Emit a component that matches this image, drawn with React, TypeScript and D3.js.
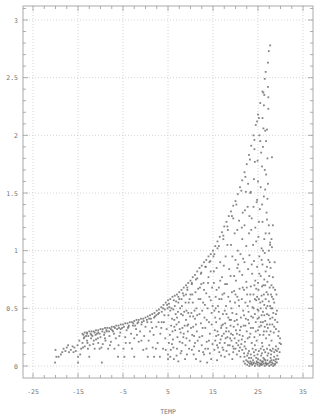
import React, { useEffect, useRef } from "react";
import * as d3 from "d3";

// tick values
const xMajor = [-25, -15, -5, 5, 15, 25, 35];
const yMajor = [0, 0.5, 1, 1.5, 2, 2.5, 3];
const yLabels = ["0", "0.5", "1", "1.5", "2", "2.5", "3"];

// upper edge of the cloud (dense row of points) [TEMP, value]
const edgePoints: [number, number][] = [
  [-14.0, 0.28], [-13.5, 0.29], [-13.0, 0.29], [-12.5, 0.30], [-12.0, 0.30], [-11.5, 0.30],
  [-11.0, 0.31], [-10.5, 0.31], [-10.0, 0.32], [-9.5, 0.32], [-9.0, 0.33], [-8.5, 0.33],
  [-8.0, 0.33], [-7.5, 0.34], [-7.0, 0.34], [-6.5, 0.35], [-6.0, 0.35], [-5.5, 0.36],
  [-5.0, 0.36], [-4.5, 0.37], [-4.0, 0.37], [-3.5, 0.38], [-3.0, 0.38], [-2.5, 0.39],
  [-2.0, 0.40], [-1.5, 0.40], [-1.0, 0.41], [-0.5, 0.41], [0.0, 0.42], [0.5, 0.43],
  [1.0, 0.44], [1.5, 0.45], [2.0, 0.46], [2.5, 0.48], [3.0, 0.49], [3.5, 0.51],
  [4.0, 0.53], [4.5, 0.55], [5.0, 0.57], [5.5, 0.58], [6.0, 0.60], [6.5, 0.61],
  [7.0, 0.62], [7.5, 0.64], [8.0, 0.66], [8.5, 0.68], [9.0, 0.70], [9.5, 0.72],
  [10.0, 0.74], [10.5, 0.77], [11.0, 0.79], [11.5, 0.82], [12.0, 0.85], [12.5, 0.87],
  [13.0, 0.90], [13.5, 0.92], [14.0, 0.95], [14.5, 0.97], [15.0, 1.00], [15.5, 1.04],
  [16.0, 1.08], [16.5, 1.12], [17.0, 1.16], [17.5, 1.21], [18.0, 1.25], [18.5, 1.30],
  [19.0, 1.34], [19.5, 1.39], [20.0, 1.43], [20.5, 1.49], [21.0, 1.55], [21.5, 1.61],
  [22.0, 1.68], [22.5, 1.75], [23.0, 1.83], [23.5, 1.91], [24.0, 2.00], [24.5, 2.09],
  [25.0, 2.18], [25.5, 2.28], [26.0, 2.38], [26.5, 2.49], [26.7, 2.55],
  [-13.8, 0.27], [-13.0, 0.28], [-12.2, 0.28], [-11.3, 0.29], [-10.5, 0.29], [-9.6, 0.30],
  [-8.7, 0.31], [-7.7, 0.32], [-6.8, 0.33], [-5.9, 0.33], [-4.8, 0.34], [-3.7, 0.35],
  [-2.7, 0.37], [-1.6, 0.38], [-0.4, 0.39], [0.8, 0.41], [2.4, 0.44], [3.9, 0.50],
  [5.2, 0.54], [6.3, 0.57], [7.3, 0.60], [8.3, 0.63], [9.3, 0.68], [10.3, 0.72],
  [11.2, 0.75], [12.3, 0.80], [13.3, 0.86], [14.2, 0.90], [15.3, 0.97], [16.3, 1.04],
  [17.3, 1.13], [18.2, 1.21], [19.2, 1.30], [20.2, 1.40], [21.3, 1.52], [22.2, 1.64],
  [23.2, 1.79], [24.2, 1.96], [25.2, 2.15], [26.2, 2.37],
];

// cold side, below the edge
const coldPoints: [number, number][] = [
  [-20.0, 0.14], [-19.8, 0.08], [-20.1, 0.03], [-19.3, 0.08], [-18.5, 0.12], [-18.2, 0.15],
  [-17.8, 0.13], [-17.5, 0.16], [-17.0, 0.12], [-16.6, 0.14], [-16.2, 0.17], [-15.8, 0.16],
  [-15.5, 0.13], [-15.1, 0.18], [-15.0, 0.08], [-15.0, 0.03], [-14.7, 0.22], [-14.3, 0.15],
  [-14.0, 0.20], [-13.7, 0.24], [-13.5, 0.17], [-13.2, 0.26], [-13.0, 0.22], [-12.8, 0.15],
  [-12.5, 0.08], [-12.4, 0.18], [-12.1, 0.24], [-11.8, 0.26], [-11.6, 0.19], [-11.3, 0.15],
  [-11.0, 0.23], [-10.8, 0.28], [-10.5, 0.20], [-10.2, 0.15], [-10.0, 0.25], [-9.7, 0.03],
  [-9.5, 0.19], [-9.2, 0.27], [-8.9, 0.22], [-8.6, 0.30], [-8.3, 0.15], [-8.0, 0.26],
  [-7.7, 0.21], [-7.4, 0.31], [-7.0, 0.28], [-6.6, 0.24], [-6.3, 0.32], [-6.0, 0.18],
  [-5.6, 0.29], [-5.2, 0.33], [-4.9, 0.15], [-4.7, 0.08], [-4.5, 0.25], [-4.2, 0.31],
  [-3.8, 0.34], [-3.5, 0.20], [-3.2, 0.28], [-2.8, 0.35], [-2.5, 0.24], [-2.1, 0.32],
  [-1.8, 0.37], [-1.5, 0.21], [-1.2, 0.30], [-0.8, 0.38], [-0.5, 0.14], [-0.3, 0.26],
  [0.0, 0.34], [0.3, 0.40], [0.5, 0.08], [0.7, 0.22], [1.0, 0.30], [1.3, 0.38],
  [1.6, 0.16], [1.8, 0.27], [2.1, 0.43], [2.4, 0.34], [2.7, 0.20], [3.0, 0.46],
  [3.2, 0.08], [3.3, 0.28], [3.6, 0.38], [3.9, 0.15], [4.2, 0.44], [4.4, 0.24],
  [4.7, 0.32], [4.9, 0.50], [5.0, 0.10], [5.0, 0.06],
  [0.4, 0.38], [1.2, 0.41], [1.9, 0.42], [2.8, 0.45], [3.6, 0.47], [4.3, 0.49],
  [4.8, 0.53], [-0.9, 0.36], [-2.3, 0.35], [-3.9, 0.33], [-5.5, 0.32], [-7.2, 0.30],
  [-9.1, 0.29], [-11.1, 0.27], [-12.7, 0.26], [-13.6, 0.25], [-12.0, 0.27], [-10.2, 0.28],
  [-8.1, 0.30],
  [-18.8, 0.10], [-17.2, 0.18], [-16.0, 0.12], [-14.5, 0.10], [-13.9, 0.16], [-12.9, 0.20],
  [-11.5, 0.22], [-10.6, 0.24], [-9.8, 0.16], [-9.0, 0.24], [-7.9, 0.18], [-6.9, 0.15],
  [-5.8, 0.26], [-4.4, 0.20], [-3.0, 0.15], [-1.9, 0.27], [-0.9, 0.22], [0.2, 0.15],
  [1.5, 0.33], [2.3, 0.15], [3.5, 0.33], [4.1, 0.38], [2.9, 0.38], [-6.1, 0.08],
  [-2.5, 0.08], [1.9, 0.08], [4.5, 0.14],
];

// 5 to 20 degrees
const midPoints: [number, number][] = [
  [5.3, 0.51], [5.1, 0.44], [5.7, 0.35], [5.4, 0.27], [6.2, 0.49], [5.9, 0.19], [5.6, 0.14],
  [6.4, 0.40], [6.8, 0.56], [6.6, 0.31], [6.1, 0.23], [7.2, 0.47], [7.0, 0.15], [6.9, 0.09],
  [7.5, 0.58], [7.4, 0.38], [7.8, 0.29], [7.6, 0.21], [8.1, 0.52], [8.3, 0.44], [8.0, 0.13],
  [8.5, 0.61], [8.7, 0.35], [8.4, 0.25], [8.9, 0.18], [9.1, 0.48], [9.3, 0.66], [9.0, 0.40],
  [9.4, 0.30], [9.6, 0.55], [9.2, 0.10], [9.8, 0.22], [9.9, 0.43], [10.0, 0.62], [7.3, 0.04],
  [8.8, 0.06], [6.3, 0.06], [5.8, 0.50], [7.9, 0.45], [9.7, 0.15], [6.7, 0.45], [8.2, 0.33],
  [5.2, 0.20], [7.1, 0.25], [9.5, 0.36],
  [10.3, 0.71], [10.5, 0.55], [10.2, 0.46], [10.6, 0.34], [10.4, 0.27], [10.8, 0.17],
  [10.7, 0.10], [11.1, 0.64], [11.0, 0.41], [11.3, 0.50], [11.5, 0.76], [11.4, 0.30],
  [11.6, 0.22], [11.8, 0.58], [11.9, 0.13], [12.1, 0.68], [12.0, 0.45], [12.3, 0.37],
  [12.4, 0.81], [12.6, 0.26], [12.5, 0.18], [12.8, 0.55], [12.9, 0.72], [13.0, 0.10],
  [13.1, 0.42], [13.3, 0.33], [13.4, 0.86], [13.5, 0.63], [13.6, 0.21], [13.8, 0.50],
  [13.9, 0.15], [14.0, 0.77], [14.1, 0.38], [14.3, 0.28], [14.4, 0.91], [14.5, 0.57],
  [14.6, 0.06], [14.7, 0.46], [14.8, 0.68], [14.9, 0.19], [11.2, 0.06], [12.2, 0.04],
  [13.7, 0.03],
  [5.5, 0.48], [5.9, 0.41], [6.0, 0.30], [6.5, 0.52], [6.2, 0.16], [6.9, 0.36], [7.3, 0.55],
  [7.0, 0.42], [7.7, 0.50], [7.6, 0.32], [8.0, 0.58], [8.2, 0.20], [8.6, 0.47], [8.5, 0.28],
  [9.0, 0.62], [9.1, 0.24], [9.5, 0.46], [9.8, 0.58], [10.1, 0.33], [10.4, 0.62], [10.9, 0.48],
  [10.8, 0.26], [11.2, 0.36], [11.7, 0.67], [11.5, 0.44], [12.0, 0.25], [12.2, 0.58],
  [12.6, 0.48], [12.7, 0.33], [13.0, 0.66], [13.2, 0.53], [13.3, 0.15], [13.6, 0.40],
  [13.9, 0.72], [14.2, 0.60], [14.1, 0.22], [14.5, 0.82], [14.7, 0.36], [14.9, 0.52],
  [14.3, 0.11], [5.5, 0.08], [7.8, 0.11], [10.3, 0.14], [12.8, 0.12], [11.0, 0.20],
  [6.4, 0.34], [8.9, 0.55], [12.4, 0.71], [10.6, 0.43], [9.3, 0.35],
  [15.1, 0.95], [15.2, 0.72], [15.3, 0.48], [15.4, 0.31], [15.5, 0.22], [15.3, 0.14],
  [15.6, 0.60], [15.8, 0.85], [15.7, 0.38], [15.9, 0.18], [16.0, 1.02], [16.1, 0.52],
  [16.2, 0.27], [16.3, 0.68], [16.4, 0.12], [16.5, 0.41], [16.6, 0.90], [16.7, 0.23],
  [16.8, 0.33], [16.9, 0.58], [17.0, 0.77], [17.1, 0.16], [17.2, 0.45], [17.3, 1.10],
  [17.4, 0.28], [17.5, 0.63], [17.6, 0.20], [17.7, 0.37], [17.8, 0.95], [17.9, 0.52],
  [18.0, 0.13], [18.1, 0.71], [18.2, 0.25], [18.3, 1.18], [18.4, 0.42], [18.5, 0.30],
  [18.6, 0.84], [18.7, 0.18], [18.8, 0.56], [18.9, 0.35], [19.0, 1.05], [19.1, 0.22],
  [19.2, 0.64], [19.3, 0.46], [19.4, 0.27], [19.5, 1.28], [19.6, 0.15], [19.7, 0.78],
  [19.8, 0.39], [19.9, 0.55], [20.0, 0.92], [15.9, 0.05], [17.6, 0.08], [19.3, 0.06],
  [16.0, 0.30], [16.5, 0.20], [17.0, 0.26], [17.3, 0.14], [17.8, 0.24], [18.3, 0.18],
  [18.6, 0.10], [19.0, 0.28], [19.4, 0.17], [19.8, 0.24], [20.2, 0.20], [20.9, 0.27],
  [21.4, 0.23], [16.8, 0.09], [18.0, 0.33], [15.7, 0.26],
  [15.2, 0.82], [15.5, 0.42], [15.8, 0.66], [16.1, 0.16], [16.3, 0.47], [16.6, 0.74],
  [16.9, 0.35], [17.1, 0.62], [17.4, 0.87], [17.6, 0.48], [17.9, 0.30], [18.2, 1.05],
  [18.4, 0.60], [18.7, 0.40], [18.9, 0.78], [19.1, 0.50], [19.3, 0.95], [19.6, 0.34],
  [19.8, 1.15], [20.0, 0.62], [20.3, 0.40], [20.5, 1.00], [20.7, 0.57], [20.9, 0.82],
  [21.2, 0.34], [21.4, 1.20], [21.6, 0.68], [21.9, 0.44], [21.7, 0.93], [21.0, 0.16],
  [18.0, 0.45], [16.4, 0.58], [17.7, 0.71], [19.0, 0.40], [20.1, 0.31], [15.6, 0.50],
  [17.2, 0.36], [18.8, 0.24], [19.7, 0.65], [20.4, 0.85],
];

// 20 degrees and warmer
const warmPoints: [number, number][] = [
  [20.1, 0.74], [20.2, 0.45], [20.3, 0.28], [20.4, 0.60], [20.5, 0.36], [20.6, 0.88],
  [20.7, 0.22], [20.8, 0.52], [20.9, 0.67], [21.0, 0.31], [21.1, 0.97], [21.2, 0.42],
  [21.3, 0.19], [21.4, 0.58], [21.5, 0.79], [21.6, 0.26], [21.7, 0.48], [21.8, 0.35],
  [21.9, 0.66], [22.0, 0.90], [22.1, 0.21], [22.2, 0.55], [22.3, 0.41], [22.4, 0.73],
  [22.5, 0.30], [22.6, 0.62], [22.7, 0.24], [22.8, 0.84], [22.9, 0.47], [23.0, 0.37],
  [23.1, 0.96], [23.2, 0.56], [23.3, 0.28], [23.4, 0.69], [23.5, 0.43], [23.6, 0.20],
  [23.7, 0.80], [23.8, 0.51], [23.9, 0.33], [24.0, 0.62], [24.1, 0.91], [24.2, 0.25],
  [24.3, 0.45], [24.4, 0.74], [24.5, 0.38], [24.6, 0.57], [24.7, 0.22], [24.8, 0.86],
  [24.9, 0.49], [25.0, 0.31],
  [25.1, 0.66], [25.2, 0.42], [25.3, 0.95], [25.4, 0.27], [25.5, 0.55], [25.6, 0.78],
  [25.7, 0.35], [25.8, 0.61], [25.9, 0.20], [26.0, 0.88], [26.1, 0.47], [26.2, 0.70],
  [26.3, 0.30], [26.4, 0.53], [26.5, 0.98], [26.6, 0.39], [26.7, 0.82], [26.8, 0.24],
  [26.9, 0.64], [27.0, 0.45], [27.1, 0.73], [27.2, 0.33], [27.3, 0.92], [27.4, 0.56],
  [27.5, 0.27], [27.6, 0.68], [27.7, 0.41], [27.8, 0.85], [27.9, 0.50], [28.0, 0.22],
  [28.1, 0.60], [28.2, 0.36], [28.3, 0.77], [28.4, 0.46], [28.5, 0.29], [28.6, 0.55],
  [28.8, 0.40], [29.0, 0.32], [29.2, 0.48], [29.5, 0.26], [29.8, 0.20], [29.1, 0.62],
  [28.7, 0.90], [27.4, 1.00],
  [24.3, 0.58], [25.0, 0.72], [25.6, 0.50], [26.1, 0.38], [26.7, 0.58], [27.1, 0.52],
  [27.6, 0.36], [27.9, 0.62], [28.2, 0.50], [26.4, 0.75], [25.8, 0.44], [27.0, 0.86],
  [26.3, 0.62], [25.3, 0.34], [24.6, 0.67], [27.5, 0.78], [28.4, 0.68], [26.9, 0.30],
  [25.9, 0.69], [24.9, 0.41],
  [22.2, 0.35], [22.5, 0.68], [22.8, 0.40], [23.1, 0.25], [23.3, 0.62], [23.6, 0.88],
  [23.9, 0.42], [24.2, 0.70], [24.5, 0.30], [24.8, 0.60], [25.1, 0.48], [25.3, 0.80],
  [25.6, 0.38], [25.8, 0.92], [26.0, 0.56], [26.2, 0.27], [26.4, 0.44], [26.6, 0.70],
  [26.8, 0.50], [27.0, 0.36], [27.2, 0.62], [27.4, 0.44], [27.6, 0.90], [27.8, 0.30],
  [28.0, 0.70], [28.2, 0.42], [28.4, 0.58], [28.6, 0.34], [28.8, 0.66], [29.0, 0.45],
  [29.3, 0.38], [29.6, 0.30], [29.9, 0.24], [30.1, 0.19], [25.2, 0.58], [26.5, 0.34],
  [27.7, 0.52], [24.0, 0.50], [23.4, 0.33], [22.7, 0.52],
  // band around 0.1
  [19.5, 0.12], [20.0, 0.15], [20.3, 0.10], [20.8, 0.13], [21.1, 0.08], [21.5, 0.14],
  [21.9, 0.11], [22.3, 0.15], [22.6, 0.09], [23.0, 0.13], [23.4, 0.10], [23.8, 0.15],
  [24.1, 0.12], [24.5, 0.14], [24.9, 0.10], [25.2, 0.13], [25.6, 0.15], [25.9, 0.11],
  [26.3, 0.14], [26.6, 0.12], [27.0, 0.15], [27.3, 0.11], [27.7, 0.14], [28.0, 0.13],
  [28.3, 0.15], [28.6, 0.12], [28.9, 0.14], [29.2, 0.13], [29.5, 0.15], [29.8, 0.12],
  [20.6, 0.18], [22.0, 0.17], [24.3, 0.18], [26.0, 0.17], [27.5, 0.18], [29.0, 0.17],
  [22.0, 0.08], [22.8, 0.11], [23.5, 0.07], [24.2, 0.09], [25.0, 0.06], [25.7, 0.09],
  [26.4, 0.06], [27.1, 0.09], [27.9, 0.10], [28.6, 0.08], [29.3, 0.09],
  // floor cluster
  [21.8, 0.04], [22.1, 0.02], [22.4, 0.05], [22.6, 0.01], [22.9, 0.03], [23.1, 0.00],
  [23.3, 0.04], [23.5, 0.02], [23.7, 0.01], [23.9, 0.05], [24.1, 0.03], [24.3, 0.00],
  [24.5, 0.02], [24.7, 0.04], [24.9, 0.01], [25.1, 0.03], [25.3, 0.00], [25.5, 0.05],
  [25.7, 0.02], [25.9, 0.01], [26.1, 0.04], [26.3, 0.02], [26.5, 0.00], [26.7, 0.03],
  [26.9, 0.01], [27.1, 0.05], [27.3, 0.02], [27.5, 0.00], [27.7, 0.04], [27.9, 0.01],
  [28.1, 0.03], [28.3, 0.02], [28.5, 0.05], [28.7, 0.01], [28.9, 0.04], [29.2, 0.03],
  [29.5, 0.06], [23.0, 0.07], [24.6, 0.07], [26.2, 0.07], [27.8, 0.07], [25.4, 0.02],
  [26.8, 0.02], [23.6, 0.03], [28.0, 0.05],
  [24.0, 0.02], [24.8, 0.03], [25.6, 0.01], [26.0, 0.03], [27.0, 0.02], [27.6, 0.03],
  [28.4, 0.00], [28.8, 0.02], [29.0, 0.06], [23.2, 0.02], [22.7, 0.04], [26.6, 0.05],
  [25.8, 0.04],
  // above 1
  [21.5, 1.10], [22.0, 1.22], [22.4, 1.04], [22.7, 1.38], [23.0, 1.15], [23.3, 1.50],
  [23.6, 1.28], [23.9, 1.05], [24.1, 1.62], [24.4, 1.20], [24.7, 1.42], [24.9, 1.78],
  [25.1, 1.12], [25.4, 1.36], [25.6, 1.55], [25.8, 1.02], [26.0, 1.25], [26.1, 1.90],
  [26.3, 1.47], [26.5, 1.70], [26.7, 1.15], [26.9, 1.33], [27.0, 2.05], [27.2, 1.58],
  [27.4, 1.22], [27.7, 1.05], [28.1, 1.81], [28.0, 1.10], [26.6, 1.53], [25.7, 1.85],
  [24.3, 1.77], [24.8, 2.12], [26.6, 2.04], [26.3, 2.26], [27.3, 2.23], [27.3, 2.33],
  [27.2, 2.42], [27.2, 2.63], [27.4, 2.73], [27.7, 2.78], [25.9, 1.73], [26.2, 2.06],
  [22.8, 1.58], [23.4, 1.51], [22.3, 1.51], [24.8, 1.44], [27.0, 1.27], [27.7, 1.07],
  [28.1, 1.03], [26.1, 1.00], [20.8, 1.26], [21.6, 1.33], [20.4, 1.18],
  [22.1, 1.35], [23.5, 1.18], [24.0, 1.38], [24.6, 1.08], [25.2, 1.25], [25.9, 1.40],
  [26.4, 1.10], [27.1, 1.45], [27.5, 1.15], [23.1, 1.30], [25.0, 1.60], [26.8, 1.66],
  [28.3, 1.22], [24.2, 1.88], [25.5, 1.95], [26.0, 2.15], [26.8, 1.95], [27.1, 1.80],
  [25.3, 2.00], [26.4, 2.35],
];

const App: React.FC = () => {
  const ref = useRef<SVGSVGElement | null>(null);

  useEffect(() => {
    if (!ref.current) return;
    const width = 317;
    const height = 418;
    const frame = { left: 23, right: 313, top: 6, bottom: 378 };

    const svg = d3.select(ref.current);
    svg.selectAll("*").remove();
    svg.attr("width", width).attr("height", height);

    const x = d3.scaleLinear().domain([-25, 35]).range([33, 303]);
    const y = d3.scaleLinear().domain([0, 3]).range([366, 20]);

    const font = "'DejaVu Sans Mono', monospace";
    const labelColor = "#777";

    // dotted grid
    const grid = svg.append("g");
    xMajor.forEach(t => {
      grid.append("line")
        .attr("x1", x(t)).attr("x2", x(t))
        .attr("y1", frame.top).attr("y2", frame.bottom)
        .attr("stroke", "#ccc").attr("stroke-width", 0.8)
        .attr("stroke-dasharray", "1,2");
    });
    yMajor.forEach(v => {
      grid.append("line")
        .attr("x1", frame.left).attr("x2", frame.right)
        .attr("y1", y(v)).attr("y2", y(v))
        .attr("stroke", "#ccc").attr("stroke-width", 0.8)
        .attr("stroke-dasharray", "1,2");
    });

    // frame
    svg.append("rect")
      .attr("x", frame.left).attr("y", frame.top)
      .attr("width", frame.right - frame.left)
      .attr("height", frame.bottom - frame.top)
      .attr("fill", "none").attr("stroke", "#aaa").attr("stroke-width", 1);

    // ticks, pointing inwards on all four sides
    const ticks = svg.append("g").attr("stroke", "#999").attr("stroke-width", 0.8);
    d3.range(-25, 35.01, 2.5).forEach(t => {
      const len = Math.abs((t + 25) % 10) < 0.01 ? 5 : 3;
      ticks.append("line").attr("x1", x(t)).attr("x2", x(t))
        .attr("y1", frame.bottom).attr("y2", frame.bottom - len);
      ticks.append("line").attr("x1", x(t)).attr("x2", x(t))
        .attr("y1", frame.top).attr("y2", frame.top + len);
    });
    d3.range(0, 3.101, 0.1).forEach(v => {
      const len = Math.abs(Math.round(v * 10) % 5) === 0 ? 5 : 3;
      ticks.append("line").attr("x1", frame.left).attr("x2", frame.left + len)
        .attr("y1", y(v)).attr("y2", y(v));
      ticks.append("line").attr("x1", frame.right).attr("x2", frame.right - len)
        .attr("y1", y(v)).attr("y2", y(v));
    });

    // tick labels
    xMajor.forEach(t => {
      svg.append("text")
        .attr("x", x(t)).attr("y", 394)
        .attr("text-anchor", "middle")
        .attr("font-family", font).attr("font-size", "6.5px")
        .attr("fill", labelColor)
        .text(t);
    });
    yMajor.forEach((v, i) => {
      svg.append("text")
        .attr("x", 18).attr("y", y(v) + 2.5)
        .attr("text-anchor", "end")
        .attr("font-family", font).attr("font-size", "6.5px")
        .attr("fill", labelColor)
        .text(yLabels[i]);
    });
    svg.append("text")
      .attr("x", 168).attr("y", 414)
      .attr("text-anchor", "middle")
      .attr("font-family", font).attr("font-size", "6.5px")
      .attr("fill", labelColor)
      .text("TEMP");

    // points
    const all = [...edgePoints, ...coldPoints, ...midPoints, ...warmPoints];
    svg.append("g")
      .selectAll("rect")
      .data(all)
      .join("rect")
      .attr("x", d => x(d[0]) - 0.9)
      .attr("y", d => y(d[1]) - 0.9)
      .attr("width", 1.8)
      .attr("height", 1.8)
      .attr("fill", "#707070")
      .attr("opacity", 0.85);
  }, []);

  return (
    <div style={{ position: "absolute", left: 0, top: 0 }}>
      <svg ref={ref} />
    </div>
  );
};

export default App;
